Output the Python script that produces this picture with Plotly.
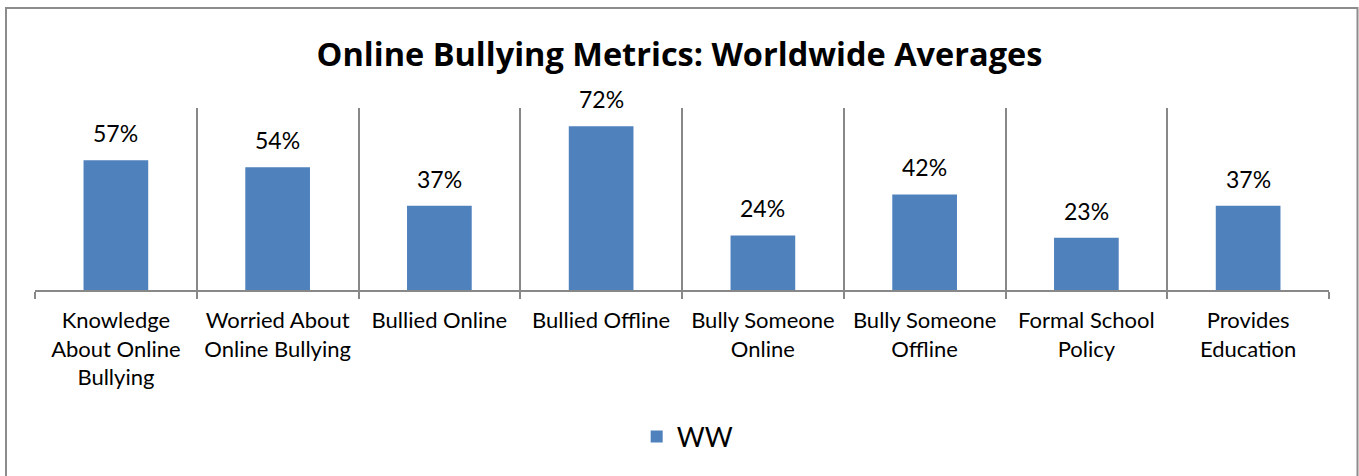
import plotly.graph_objects as go

categories = [
    "Knowledge<br>About Online<br>Bullying",
    "Worried About<br>Online Bullying",
    "Bullied Online",
    "Bullied Offline",
    "Bully Someone<br>Online",
    "Bully Someone<br>Offline",
    "Formal School<br>Policy",
    "Provides<br>Education",
]
ww_values = [57, 54, 37, 72, 24, 42, 23, 37]
series_name = "WW"
title_text = "Online Bullying Metrics: Worldwide Averages"

BAR = "#4F81BD"
GRID = "#888888"
FONT = "Lato, Calibri, Arial, sans-serif"

fig = go.Figure()
fig.add_trace(go.Bar(
    x=categories, y=ww_values, name=series_name,
    marker=dict(color=BAR, line=dict(width=0)),
    showlegend=True,
))

annotations = []
for c, v in zip(categories, ww_values):
    annotations.append(dict(
        x=c, y=v, xref="x", yref="y", text=f"{v}%", showarrow=False,
        yanchor="bottom", yshift=11,
        font=dict(family=FONT, size=23, color="#000000"),
    ))

fig.update_layout(
    width=1359, height=476,
    margin=dict(l=35, r=30, t=108, b=186, autoexpand=False),
    paper_bgcolor="white", plot_bgcolor="white",
    font=dict(family=FONT, size=22, color="#000000"),
    title=dict(text=f"<b>{title_text}</b>", x=0.5, xanchor="center",
               y=1 - 55 / 476, yanchor="middle", yref="container",
               font=dict(family="Open Sans, Lato, sans-serif", size=32.5, color="#000000")),
    bargap=0.6,
    xaxis=dict(
        type="category", tickson="boundaries", showgrid=True,
        gridcolor=GRID, gridwidth=1.5,
        showline=True, linecolor=GRID, linewidth=1.5,
        ticks="outside", ticklen=7, tickcolor=GRID, tickwidth=1.5,
        ticklabelstandoff=10,
        tickfont=dict(family=FONT, size=22, color="#000000"),
        mirror=False, zeroline=False, fixedrange=True,
    ),
    yaxis=dict(
        range=[0, 80], showgrid=False, showticklabels=False,
        zeroline=False, showline=False, ticks="", fixedrange=True,
    ),
    legend=dict(
        orientation="h", x=0.504, xanchor="center", y=-0.808, yanchor="middle",
        font=dict(family=FONT, size=27, color="#000000"),
        bgcolor="rgba(0,0,0,0)",
    ),
    annotations=annotations,
    shapes=[dict(
        type="rect", xref="paper", yref="paper",
        x0=(6 - 35) / 1294, x1=(1357.5 - 35) / 1294,
        y0=(290 - 480) / 182, y1=(290 - 8) / 182,
        line=dict(color="#8C8C8C", width=2), fillcolor="rgba(0,0,0,0)",
        layer="below",
    )],
)

fig.write_html("out.html", config={"displayModeBar": False},
               post_script="document.body.style.margin='0';document.body.style.overflow='hidden';")
